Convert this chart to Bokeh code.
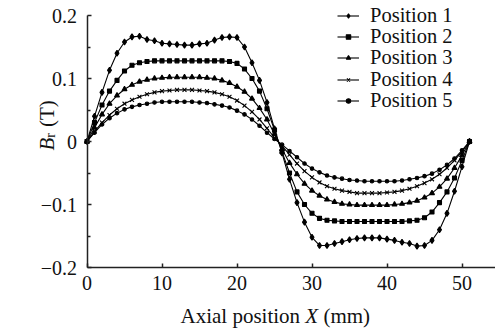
import math
from bokeh.plotting import figure
from bokeh.models import Range1d, FixedTicker, CustomJSTickFormatter, Label, Legend, LegendItem
from bokeh.embed import file_html
from bokeh.resources import INLINE

# ---- data ----
axial_x = list(range(52))
series_names = ["Position 1", "Position 2", "Position 3", "Position 4", "Position 5"]
pos1 = [0, 0.040, 0.078, 0.113, 0.140, 0.158, 0.166, 0.167, 0.162, 0.160, 0.156, 0.155, 0.154,
        0.153, 0.153, 0.155, 0.156, 0.161, 0.165, 0.166, 0.165, 0.150, 0.125, 0.097, 0.062, 0.020,
        -0.018, -0.060, -0.097, -0.128, -0.152, -0.165, -0.165, -0.162, -0.159, -0.156, -0.154, -0.153,
        -0.153, -0.153, -0.155, -0.157, -0.160, -0.162, -0.166, -0.165, -0.157, -0.140, -0.114, -0.079,
        -0.040, 0]
pos2 = [0, 0.030, 0.058, 0.080, 0.097, 0.112, 0.121, 0.125, 0.127, 0.128, 0.128, 0.128, 0.128,
        0.128, 0.128, 0.128, 0.128, 0.128, 0.128, 0.127, 0.124, 0.115, 0.100, 0.080, 0.052, 0.018,
        -0.016, -0.050, -0.080, -0.100, -0.114, -0.122, -0.125, -0.126, -0.127, -0.127, -0.127, -0.127,
        -0.127, -0.127, -0.127, -0.127, -0.127, -0.126, -0.125, -0.121, -0.112, -0.097, -0.080, -0.058,
        -0.030, 0]
pos3 = [0, 0.022, 0.043, 0.060, 0.073, 0.083, 0.090, 0.095, 0.098, 0.100, 0.101, 0.102, 0.102,
        0.102, 0.102, 0.102, 0.101, 0.100, 0.097, 0.093, 0.087, 0.079, 0.068, 0.053, 0.035, 0.012,
        -0.012, -0.034, -0.052, -0.067, -0.078, -0.086, -0.092, -0.096, -0.099, -0.100, -0.101, -0.101,
        -0.101, -0.101, -0.101, -0.100, -0.099, -0.097, -0.094, -0.089, -0.082, -0.072, -0.059, -0.042,
        -0.022, 0]
pos4 = [0, 0.016, 0.030, 0.042, 0.052, 0.060, 0.066, 0.071, 0.075, 0.078, 0.080, 0.081, 0.082,
        0.082, 0.082, 0.081, 0.080, 0.078, 0.075, 0.071, 0.065, 0.057, 0.047, 0.035, 0.021, 0.006,
        -0.007, -0.021, -0.035, -0.047, -0.057, -0.065, -0.071, -0.075, -0.078, -0.080, -0.082, -0.082,
        -0.082, -0.082, -0.081, -0.080, -0.078, -0.075, -0.071, -0.066, -0.060, -0.052, -0.042, -0.030,
        -0.016, 0]
pos5 = [0, 0.014, 0.027, 0.037, 0.045, 0.051, 0.055, 0.058, 0.060, 0.062, 0.063, 0.063, 0.063,
        0.063, 0.063, 0.062, 0.061, 0.059, 0.057, 0.054, 0.049, 0.043, 0.035, 0.025, 0.014, 0.004,
        -0.005, -0.015, -0.025, -0.035, -0.043, -0.049, -0.054, -0.057, -0.059, -0.061, -0.062, -0.063,
        -0.063, -0.063, -0.063, -0.063, -0.062, -0.060, -0.058, -0.055, -0.051, -0.045, -0.037, -0.027,
        -0.014, 0]
x_ticks = [0, 10, 20, 30, 40, 50]
y_ticks = [-0.2, -0.1, 0, 0.1, 0.2]
y_minor_ticks = [-0.15, -0.05, 0.05, 0.15]
x_axis_extent = (0, 54.47)
y_axis_extent = (-0.2, 0.2)

series = [pos1, pos2, pos3, pos4, pos5]
markers = ["diamond", "square", "triangle", "x", "circle"]
msizes = [6, 4, 5, 5.5, 3.5]

FONT = "Liberation Serif"
W, H = 495, 331
X0PX, XSCALE = 86.5, 7.5      # page px of x=0, px per mm
Y0PX, YSCALE = 141.0, 630.0   # page px of y=0, px per tesla

p = figure(frame_width=W, frame_height=H, output_backend="svg", toolbar_location=None,
           x_range=Range1d(-X0PX / XSCALE, (W - X0PX) / XSCALE),
           y_range=Range1d((Y0PX - H) / YSCALE, Y0PX / YSCALE),
           min_border=0)
p.outline_line_color = None
p.xgrid.visible = False
p.ygrid.visible = False
p.background_fill_color = "white"
p.border_fill_color = "white"

xa, ya = p.xaxis[0], p.yaxis[0]
xa.fixed_location = y_axis_extent[0]
xa.bounds = x_axis_extent
ya.fixed_location = 0
ya.bounds = y_axis_extent

for ax in (xa, ya):
    ax.axis_line_color = "#222222"
    ax.axis_line_width = 1.5
    ax.major_tick_line_color = "#222222"
    ax.major_tick_line_width = 1.5
    ax.minor_tick_line_color = "#222222"
    ax.minor_tick_line_width = 1.5
    ax.major_tick_in = 4
    ax.major_tick_out = 0
    ax.minor_tick_in = 3
    ax.minor_tick_out = 0
    ax.major_label_text_font = FONT
    ax.major_label_text_font_size = "20px"
    ax.major_label_text_color = "#111111"

xa.ticker = FixedTicker(ticks=x_ticks, minor_ticks=[])
ya.ticker = FixedTicker(ticks=y_ticks, minor_ticks=y_minor_ticks)
ya.formatter = CustomJSTickFormatter(code="""
if (Math.abs(tick) < 1e-9) return '0';
return tick < 0 ? '\u2212' + (-tick).toFixed(1) : tick.toFixed(1);
""")
xa.major_label_standoff = 8
ya.major_label_standoff = 10

legend_rows_px = [15, 36, 57, 79, 100]
ROW_H = 24
GLYPH_H = 11
for name, ys, mk, ms, yc in zip(series_names, series, markers, msizes, legend_rows_px):
    r1 = p.line(axial_x, ys, line_color="black", line_width=1.1)
    r2 = p.scatter(axial_x, ys, marker=mk, size=ms, line_color="black", fill_color="black",
                   line_width=1.1)
    lg = Legend(items=[LegendItem(label=name, renderers=[r1, r2])],
                location=(337, H - yc - ROW_H / 2), padding=0, margin=0, spacing=0,
                glyph_width=22, glyph_height=GLYPH_H, label_height=ROW_H, label_standoff=11,
                label_text_font=FONT, label_text_font_size="20.5px", label_text_color="#111111",
                border_line_alpha=0, background_fill_alpha=0)
    p.add_layout(lg)


def px_to_x(px):
    return (px - X0PX) / XSCALE


def py_to_y(py):
    return (Y0PX - py) / YSCALE


XLAB_BASE = 315   # page px
YLAB_BASE = 46    # page px (rotated text)
lab_kw = dict(text_font=FONT, text_color="#111111", text_baseline="alphabetic", text_align="left")
p.add_layout(Label(x=px_to_x(180), y=py_to_y(XLAB_BASE), text="Axial position", text_font_size="21px", **lab_kw))
p.add_layout(Label(x=px_to_x(304.8), y=py_to_y(XLAB_BASE), text="X", text_font_size="21px",
                   text_font_style="italic", **lab_kw))
p.add_layout(Label(x=px_to_x(322.9), y=py_to_y(XLAB_BASE), text="(mm)", text_font_size="21px", **lab_kw))

p.add_layout(Label(x=px_to_x(YLAB_BASE), y=py_to_y(150), text="B", angle=math.pi / 2, text_font_size="21px",
                   text_font_style="italic", **lab_kw))
p.add_layout(Label(x=px_to_x(YLAB_BASE + 3.5), y=py_to_y(137.2), text="r", angle=math.pi / 2,
                   text_font_size="14px", **lab_kw))
p.add_layout(Label(x=px_to_x(YLAB_BASE), y=py_to_y(126.5), text="(T)", angle=math.pi / 2, text_font_size="21px",
                   **lab_kw))

open("out.html", "w").write(file_html(p, INLINE))
